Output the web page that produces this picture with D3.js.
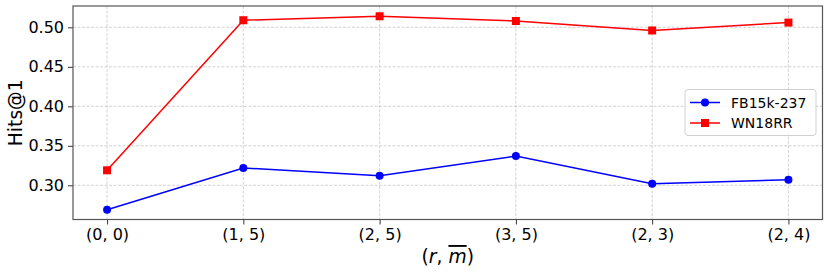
<!DOCTYPE html>
<html>
<head>
<meta charset="utf-8">
<script src="https://cdn.jsdelivr.net/npm/d3@7"></script>
<style>
  body { margin: 0; background: #fff; }
  text { font-family: "DejaVu Sans", sans-serif; }
</style>
</head>
<body>
<svg id="chart" width="830" height="273"></svg>
<script>
// data
let categories = ["(0, 0)", "(1, 5)", "(2, 5)", "(3, 5)", "(2, 3)", "(2, 4)"];
let fb15k = [0.269, 0.322, 0.312, 0.337, 0.302, 0.307];
let wn18rr = [0.319, 0.509, 0.514, 0.508, 0.496, 0.506];
let yTicks = [0.30, 0.35, 0.40, 0.45, 0.50];

let svg = d3.select("#chart");
let mLeft = 73, mRight = 822.5, mTop = 6, mBottom = 219.5;

let x = d3.scaleLinear().domain([-0.25, categories.length - 0.75]).range([mLeft, mRight]);
let y = d3.scaleLinear().domain([0.2567, 0.527]).range([mBottom, mTop]);

// grid
svg.append("g").selectAll("line").data(yTicks).join("line")
    .attr("x1", mLeft).attr("x2", mRight)
    .attr("y1", d => y(d)).attr("y2", d => y(d))
    .attr("stroke", "#c8c8c8").attr("stroke-width", 0.8)
    .attr("stroke-dasharray", "3,1.5");
svg.append("g").selectAll("line").data(categories).join("line")
    .attr("x1", (d, i) => x(i)).attr("x2", (d, i) => x(i))
    .attr("y1", mTop).attr("y2", mBottom)
    .attr("stroke", "#c8c8c8").attr("stroke-width", 0.8)
    .attr("stroke-dasharray", "3,1.5");

// axes
let xAxis = d3.axisBottom(x).tickValues(d3.range(categories.length))
    .tickFormat(i => categories[i]).tickSize(5).tickPadding(4);
let yAxis = d3.axisLeft(y).tickValues(yTicks)
    .tickFormat(d3.format(".2f")).tickSize(5).tickPadding(4);

let gx = svg.append("g").attr("transform", `translate(0,${mBottom})`).call(xAxis);
let gy = svg.append("g").attr("transform", `translate(${mLeft},0)`).call(yAxis);
[gx, gy].forEach(g => {
  g.select(".domain").remove();
  g.selectAll(".tick line").attr("stroke", "#333").attr("stroke-width", 1);
  g.selectAll(".tick text").attr("font-size", 16).attr("fill", "#000")
    .attr("font-family", "DejaVu Sans");
});

// frame
svg.append("rect")
    .attr("x", mLeft).attr("y", mTop)
    .attr("width", mRight - mLeft).attr("height", mBottom - mTop)
    .attr("fill", "none").attr("stroke", "#555").attr("stroke-width", 1.2);

// lines
let line = d3.line().x((d, i) => x(i)).y(d => y(d));

svg.append("path").datum(fb15k).attr("d", line)
    .attr("fill", "none").attr("stroke", "#0000ff").attr("stroke-width", 1.5);
svg.append("g").selectAll("circle").data(fb15k).join("circle")
    .attr("cx", (d, i) => x(i)).attr("cy", d => y(d)).attr("r", 4)
    .attr("fill", "#0000ff");

svg.append("path").datum(wn18rr).attr("d", line)
    .attr("fill", "none").attr("stroke", "#ff0000").attr("stroke-width", 1.5);
svg.append("g").selectAll("rect").data(wn18rr).join("rect")
    .attr("x", (d, i) => x(i) - 4).attr("y", d => y(d) - 4)
    .attr("width", 8).attr("height", 8)
    .attr("fill", "#ff0000");

// labels
svg.append("text")
    .attr("transform", `translate(16,${(mTop + mBottom) / 2}) rotate(-90)`)
    .attr("text-anchor", "middle").attr("dominant-baseline", "middle")
    .attr("font-size", 18.7).text("Hits@1");

let xl = svg.append("text")
    .attr("x", (mLeft + mRight) / 2).attr("y", 263)
    .attr("text-anchor", "middle").attr("font-size", 18.7);
xl.append("tspan").text("(");
xl.append("tspan").attr("font-style", "italic").text("r");
xl.append("tspan").text(", ");
xl.append("tspan").attr("font-style", "italic")
    .style("text-decoration", "overline").text("m");
xl.append("tspan").text(")");

// legend
let lg = svg.append("g").attr("transform", "translate(685,89.5)");
lg.append("rect").attr("width", 131).attr("height", 46).attr("rx", 3)
    .attr("fill", "#fff").attr("fill-opacity", 0.8)
    .attr("stroke", "#d0d0d0").attr("stroke-width", 1);
let items = [
  { name: "FB15k-237", color: "#0000ff", shape: "circle" },
  { name: "WN18RR", color: "#ff0000", shape: "square" }
];
items.forEach((it, i) => {
  let row = lg.append("g").attr("transform", `translate(0,${13 + i * 20.5})`);
  row.append("line").attr("x1", 5).attr("x2", 35)
      .attr("stroke", it.color).attr("stroke-width", 1.5);
  if (it.shape == "circle") {
    row.append("circle").attr("cx", 20).attr("r", 4).attr("fill", it.color);
  } else {
    row.append("rect").attr("x", 16).attr("y", -4).attr("width", 8).attr("height", 8)
        .attr("fill", it.color);
  }
  row.append("text").attr("x", 46).attr("dominant-baseline", "central")
      .attr("font-size", 14).text(it.name);
});
</script>
</body>
</html>
